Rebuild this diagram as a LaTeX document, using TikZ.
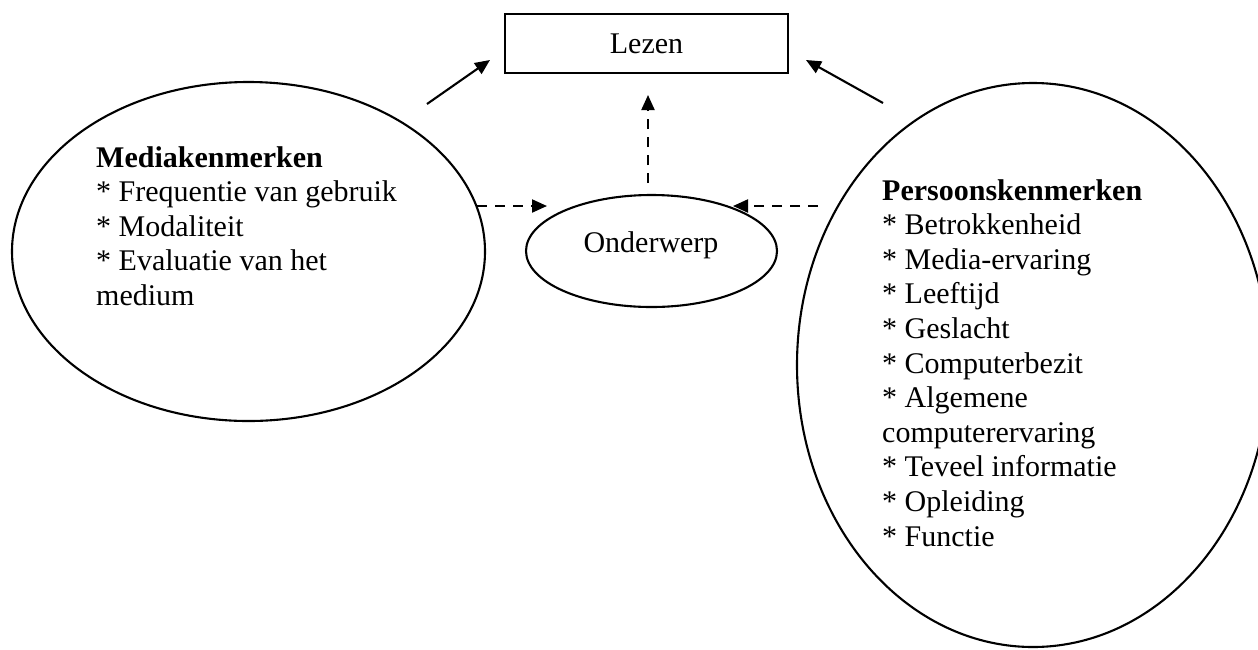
\documentclass[tikz,border=0pt]{standalone}
\usepackage{fontspec}
\setmainfont{Liberation Serif}
\usetikzlibrary{shapes.geometric,arrows.meta}
\begin{document}
\begin{tikzpicture}[x=1pt,y=-1pt,
  outline/.style={draw, line width=2.1pt, inner sep=0pt},
  txt/.style={font=\fontsize{30}{34.6}\selectfont, inner sep=0pt, align=left},
  solidarrow/.style={line width=2.1pt, -{Triangle[length=15pt,width=13pt]}},
  dasharrow/.style={line width=2.1pt, dash pattern=on 10pt off 8pt, -{Triangle[length=15pt,width=13pt]}}]
\useasboundingbox (0,0) rectangle (1258,649);
% nodes
\node[outline, minimum width=283pt, minimum height=59pt, font=\fontsize{30}{34.6}\selectfont] (lezen) at (646.5,43.5) {Lezen};
\node[outline, ellipse, minimum width=251pt, minimum height=112pt] (onder) at (651.5,251) {};
\node[txt, anchor=base] (ondertxt) at (651,252) {Onderwerp};
\node[outline, ellipse, minimum width=473pt, minimum height=339pt] (media) at (248.5,251.5) {};
\node[txt, anchor=base west] (mediatxt) at (96,305.4) {\textbf{Mediakenmerken}\\
* Frequentie van gebruik\\
* Modaliteit\\
* Evaluatie van het\\
medium};
\node[outline, ellipse, minimum width=472pt, minimum height=564pt] (pers) at (1033,365) {};
\node[txt, anchor=base west] (perstxt) at (882,546) {\textbf{Persoonskenmerken}\\
* Betrokkenheid\\
* Media-ervaring\\
* Leeftijd\\
* Geslacht\\
* Computerbezit\\
* Algemene\\
computerervaring\\
* Teveel informatie\\
* Opleiding\\
* Functie};
% connector ends
\coordinate (mediaout) at (427,104);
\coordinate (lezenleft) at (490,60);
\coordinate (persout) at (883,103);
\coordinate (lezenright) at (806,60);
\coordinate (onderup) at (648,183);
\coordinate (lezenbottom) at (648,95);
\coordinate (mediaright) at (477,206);
\coordinate (onderleft) at (547,206);
\coordinate (persleft) at (818,206);
\coordinate (onderright) at (733,206);
% connectors
\draw[solidarrow] (mediaout) -- (lezenleft);
\draw[solidarrow] (persout) -- (lezenright);
\draw[dasharrow] (onderup) -- (lezenbottom);
\draw[dasharrow] (mediaright) -- (onderleft);
\draw[dasharrow] (persleft) -- (onderright);
\end{tikzpicture}
\end{document}
